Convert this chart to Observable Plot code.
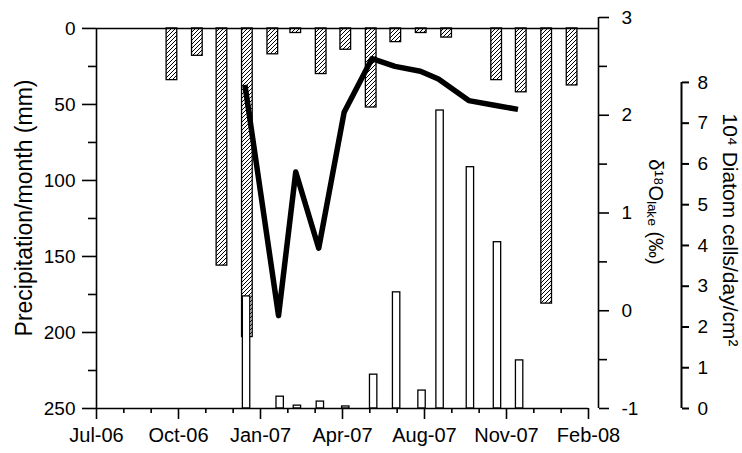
<!DOCTYPE html>
<html>
<head>
<meta charset="utf-8">
<script src="https://cdn.jsdelivr.net/npm/d3@7"></script>
<script src="https://cdn.jsdelivr.net/npm/@observablehq/plot@0.6"></script>
<style>
  html, body { margin: 0; padding: 0; background: #fff; }
  #chart svg { display: block; }
</style>
</head>
<body>
<div id="chart"></div>
<script>
// ---------- data ----------
// monthly precipitation totals, plotted at the end of each month
const precipMonths = ["Sep-06","Oct-06","Nov-06","Dec-06","Jan-07","Feb-07","Mar-07","Apr-07","May-07","Jun-07","Jul-07","Aug-07","Sep-07","Oct-07","Nov-07","Dec-07","Jan-08"];
const precipDates  = ["2006-10-01","2006-11-01","2006-12-01","2007-01-01","2007-02-01","2007-03-01","2007-04-01","2007-05-01","2007-06-01","2007-07-01","2007-08-01","2007-09-01","2007-10-01","2007-11-01","2007-12-01","2008-01-01","2008-02-01"];
const precipValues = [34, 18, 156, 203, 17, 3, 30, 14, 52, 9, 3, 6, 0, 34, 42, 181, 37.5];

// sediment-trap sampling dates
const sampleDates = ["2006-12-29","2007-02-08","2007-03-01","2007-03-29","2007-04-29","2007-06-02","2007-06-30","2007-07-31","2007-08-22","2007-09-28","2007-10-31","2007-11-27"];
const d18OValues  = [2.31, -0.05, 1.42, 0.64, 2.03, 2.58, 2.50, 2.45, 2.37, 2.15, 2.10, 2.06];
const diatomValues = [2.75, 0.29, 0.07, 0.17, 0.05, 0.83, 2.85, 0.44, 7.31, 5.92, 4.08, 1.18];

// axis ticks
const xTickDates   = ["2006-07-01","2006-10-09","2007-01-17","2007-04-27","2007-08-05","2007-11-13","2008-02-21"];
const precipTicks  = [0, 50, 100, 150, 200, 250];
const precipMinor  = [25, 75, 125, 175, 225];
const d18OTicks    = [-1, 0, 1, 2, 3];
const d18OMinor    = [-0.5, 0.5, 1.5, 2.5];
const diatomTicks  = [0, 1, 2, 3, 4, 5, 6, 7, 8];

// ---------- scales helpers ----------
const parse = d3.utcParse("%Y-%m-%d");
const DAY = 864e5;
const x0 = parse(xTickDates[0]);
const xLastTick = parse(xTickDates[xTickDates.length - 1]);
const xEnd = new Date(+x0 + 612.2 * DAY);
const yTop = -7.2;            // precipitation value at the very top of the frame
const diatomTopMm = 35.5;     // where 8 on the diatom axis sits, in precipitation units
const dToMm = v => 250 - (v + 1) / 4 * (250 - yTop);
const mmToD = m => -1 + (250 - m) / (250 - yTop) * 4;
const cToMm = v => 250 - v / 8 * (250 - diatomTopMm);
const mmToC = m => (250 - m) / (250 - diatomTopMm) * 8;

const precip = precipDates.map((d, i) => ({month: precipMonths[i], date: parse(d), v: precipValues[i]}));
const samples = sampleDates.map((d, i) => ({date: parse(d), d18O: d18OValues[i], diatom: diatomValues[i]}));

const minorX = d3.range(19).filter(k => k % 3 !== 0).map(k => new Date(+x0 + k * 100 / 3 * DAY));

const fmtX = d3.utcFormat("%b-%y");
const AX = {stroke: "#000", strokeWidth: 1.6};

const chart = Plot.plot({
  width: 742,
  height: 453,
  marginLeft: 96,
  marginRight: 144,
  marginTop: 17,
  marginBottom: 45,
  x: {type: "utc", domain: [x0, xEnd]},
  y: {domain: [yTop, 250], reverse: true},
  style: {fontFamily: "'Liberation Sans', Arial, sans-serif", fontSize: "19px", color: "#000", background: "#fff", overflow: "visible"},
  marks: [
    // precipitation (hatched, hanging from top)
    Plot.rect(precip, {
      x1: d => new Date(+d.date - 6.5 * DAY),
      x2: d => new Date(+d.date + 6.5 * DAY),
      y1: 0, y2: "v",
      fill: "url(#hatch)", stroke: "#000", strokeWidth: 1.3
    }),
    // diatom flux (white bars from bottom)
    Plot.rect(samples, {
      x1: d => new Date(+d.date - 2.5 * DAY),
      x2: d => new Date(+d.date + 6.5 * DAY),
      y1: 250, y2: d => cToMm(d.diatom),
      fill: "#fff", stroke: "#000", strokeWidth: 1.3
    }),
    // d18O lake line
    Plot.line(samples, {x: "date", y: d => dToMm(d.d18O), stroke: "#000", strokeWidth: 5.5, strokeLinejoin: "round", strokeLinecap: "butt"}),

    // axis lines
    Plot.ruleY([0], {...AX}),
    Plot.ruleY([250], {x1: x0, x2: xLastTick, ...AX}),
    Plot.ruleX([x0], {y1: 0, y2: 250, ...AX}),
    Plot.ruleX([xEnd], {y1: dToMm(-1), y2: dToMm(3), ...AX}),
    Plot.ruleX([xEnd], {y1: cToMm(0), y2: cToMm(8), dx: 83, ...AX, strokeWidth: 2}),

    // x axis
    Plot.axisX(xTickDates.map(parse), {anchor: "bottom", tickSize: 11, tickPadding: 8, tickFormat: fmtX, fontSize: 20, label: null, strokeWidth: 1.6}),
    Plot.axisX(minorX, {anchor: "bottom", tickSize: 5, tickFormat: () => "", label: null, strokeWidth: 1.6}),

    // left precipitation axis
    Plot.axisY(precipTicks, {anchor: "left", tickSize: 14, tickPadding: 7, fontSize: 19, label: null, strokeWidth: 1.6}),
    Plot.axisY(precipMinor, {anchor: "left", tickSize: 8, tickFormat: () => "", label: null, strokeWidth: 1.6}),

    // d18O axis
    Plot.axisY(d18OTicks.map(dToMm), {anchor: "right", tickSize: 10, tickPadding: 13, tickFormat: v => String(Math.round(mmToD(v))), fontSize: 19, label: null, strokeWidth: 1.6}),
    Plot.axisY(d18OMinor.map(dToMm), {anchor: "right", tickSize: 8, tickFormat: () => "", label: null, strokeWidth: 1.6}),

    // diatom axis
    Plot.axisY(diatomTicks.map(cToMm), {anchor: "right", dx: 83, tickSize: 7, tickPadding: 9, tickFormat: v => String(Math.round(mmToC(v))), fontSize: 19, label: null, strokeWidth: 2}),

    // axis titles
    Plot.text(["Precipitation/month (mm)"], {text: d => d, frameAnchor: "left", textAnchor: "middle", dx: -72, dy: -5, rotate: -90, fontSize: 23, ariaLabel: "title-left"}),
    Plot.text(["δ¹⁸Oₗₐₖₑ (‰)"], {text: d => d, frameAnchor: "right", textAnchor: "middle", dx: 57, dy: -1, rotate: 90, fontSize: 20, ariaLabel: "title-d18"}),
    Plot.text(["10⁴ Diatom cells/day/cm²"], {text: d => d, frameAnchor: "right", textAnchor: "middle", dx: 131, dy: 17, rotate: 90, fontSize: 21, ariaLabel: "title-diatom"})
  ]
});

// hatch pattern definition
const ns = "http://www.w3.org/2000/svg";
const defs = document.createElementNS(ns, "defs");
defs.innerHTML = '<pattern id="hatch" patternUnits="userSpaceOnUse" width="4" height="4">' +
  '<rect width="4" height="4" fill="#fff"/>' +
  '<path d="M-1,1 l2,-2 M0,4 l4,-4 M3,5 l2,-2" stroke="#000" stroke-width="1"/></pattern>';
chart.insertBefore(defs, chart.firstChild);

// stretch rotated titles along their length, like the reference
[["title-left", 1.2], ["title-d18", 1.2], ["title-diatom", 1.18]].forEach(([lab, s]) => {
  chart.querySelectorAll(`g[aria-label="${lab}"] text`).forEach(t => {
    const tr = t.getAttribute("transform");
    if (tr) t.setAttribute("transform", tr + ` scale(${s},1)`);
  });
});

document.getElementById("chart").appendChild(chart);
</script>
</body>
</html>
